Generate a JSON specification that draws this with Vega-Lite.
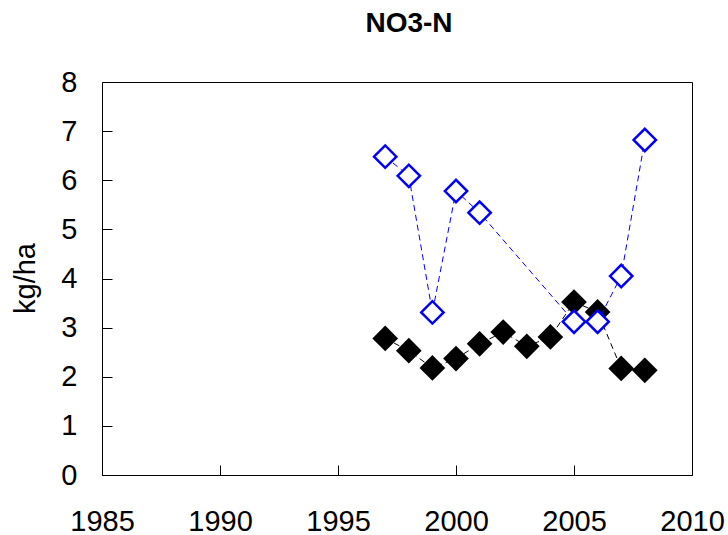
{
  "$schema": "https://vega.github.io/schema/vega-lite/v6.json",
  "autosize": {"type": "none"},
  "padding": {"left": 102, "top": 82, "right": 36, "bottom": 60},
  "width": 590,
  "height": 393,
  "background": "white",
  "config": {
    "font": "Liberation Sans",
    "view": {"stroke": "black", "strokeWidth": 1},
    "axis": {"grid": false, "domain": false}
  },
  "title": {
    "text": "NO3-N",
    "font": "Liberation Sans",
    "fontSize": 28,
    "fontWeight": "bold",
    "color": "black",
    "offset": 30,
    "dx": 12
  },
  "data": {
    "values": [
      {"year": 1997, "series": "Black", "value": 2.78},
      {"year": 1998, "series": "Black", "value": 2.53},
      {"year": 1999, "series": "Black", "value": 2.18},
      {"year": 2000, "series": "Black", "value": 2.37},
      {"year": 2001, "series": "Black", "value": 2.67},
      {"year": 2002, "series": "Black", "value": 2.91},
      {"year": 2003, "series": "Black", "value": 2.62},
      {"year": 2004, "series": "Black", "value": 2.81},
      {"year": 2005, "series": "Black", "value": 3.52},
      {"year": 2006, "series": "Black", "value": 3.32},
      {"year": 2007, "series": "Black", "value": 2.17},
      {"year": 2008, "series": "Black", "value": 2.13},
      {"year": 1997, "series": "Blue", "value": 6.48},
      {"year": 1998, "series": "Blue", "value": 6.09},
      {"year": 1999, "series": "Blue", "value": 3.31},
      {"year": 2000, "series": "Blue", "value": 5.78},
      {"year": 2001, "series": "Blue", "value": 5.34},
      {"year": 2005, "series": "Blue", "value": 3.12},
      {"year": 2006, "series": "Blue", "value": 3.12},
      {"year": 2007, "series": "Blue", "value": 4.05},
      {"year": 2008, "series": "Blue", "value": 6.82}
    ]
  },
  "encoding": {
    "x": {
      "field": "year",
      "type": "quantitative",
      "scale": {"domain": [1985, 2010], "nice": false, "zero": false},
      "axis": {
        "title": null,
        "values": [1985, 1990, 1995, 2000, 2005, 2010],
        "format": "d",
        "tickSize": -10,
        "tickColor": "black",
        "labelPadding": 42,
        "labelFontSize": 29,
        "labelColor": "black",
        "labelFlush": false
      }
    },
    "y": {
      "field": "value",
      "type": "quantitative",
      "scale": {"domain": [0, 8], "nice": false},
      "axis": {
        "title": "kg/ha",
        "titleFontSize": 29,
        "titleFontWeight": "normal",
        "titleColor": "black",
        "titleAngle": -90,
        "titleX": -77,
        "titleY": 196,
        "titleAlign": "center",
        "titleBaseline": "middle",
        "values": [0, 1, 2, 3, 4, 5, 6, 7, 8],
        "tickSize": -10,
        "tickColor": "black",
        "labelPadding": 35,
        "labelFontSize": 29,
        "labelColor": "black",
        "labelFlush": false
      }
    }
  },
  "layer": [
    {
      "transform": [{"filter": "datum.series === 'Black'"}],
      "mark": {"type": "line", "color": "black", "strokeWidth": 1, "strokeDash": [6, 4]}
    },
    {
      "transform": [{"filter": "datum.series === 'Black'"}],
      "mark": {"type": "point", "shape": "diamond", "filled": true, "fill": "black", "stroke": "black", "strokeWidth": 0, "size": 660, "opacity": 1}
    },
    {
      "transform": [{"filter": "datum.series === 'Blue'"}],
      "mark": {"type": "line", "color": "#0000FF", "strokeWidth": 1, "strokeDash": [6, 4]}
    },
    {
      "transform": [{"filter": "datum.series === 'Blue'"}],
      "mark": {"type": "point", "shape": "diamond", "filled": true, "fill": "white", "stroke": "#0000FF", "strokeWidth": 2.5, "size": 500, "opacity": 1}
    }
  ]
}
